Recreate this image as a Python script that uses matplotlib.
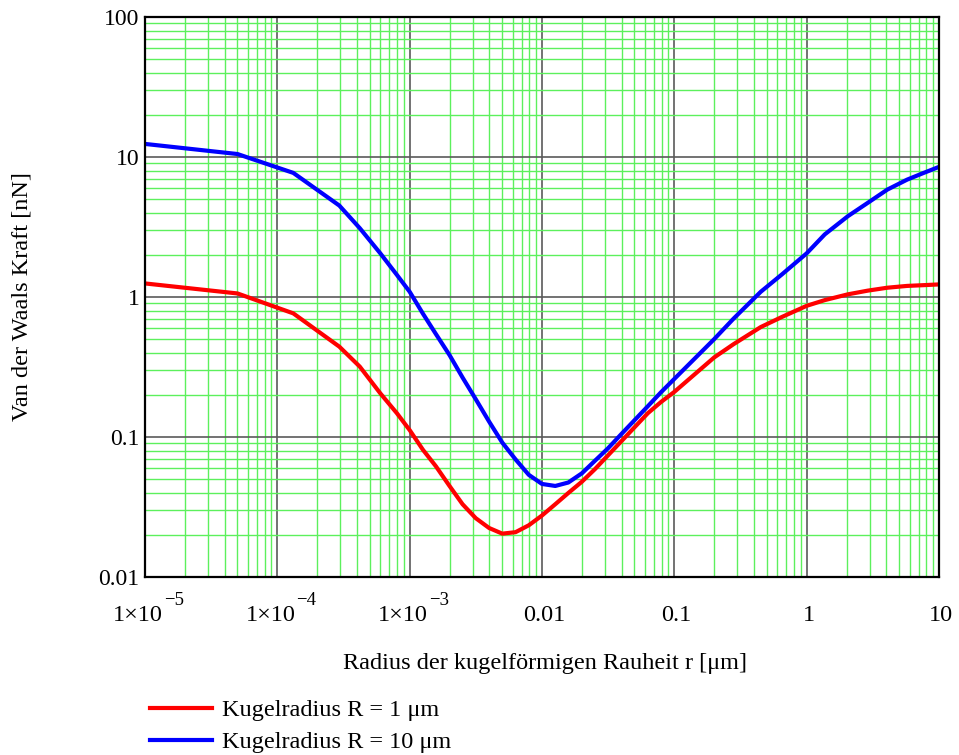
import numpy as np
import matplotlib
matplotlib.use("Agg")
from matplotlib import pyplot as plt
from matplotlib.lines import Line2D
from matplotlib import transforms

plt.rcParams['font.family'] = ['Liberation Serif', 'DejaVu Serif']
plt.rcParams['font.size'] = 17

# radius of the spherical roughness r [um]
r = [1e-5, 5e-5, 1.32e-4, 2.94e-4, 4.2e-4, 6e-4, 8e-4, 1e-3,
     1.26e-3, 1.58e-3, 2e-3, 2.51e-3, 3.16e-3, 3.98e-3, 5.01e-3, 6.31e-3, 7.94e-3,
     1e-2, 1.26e-2, 1.58e-2, 2e-2, 2.51e-2, 3.16e-2, 3.98e-2, 5.01e-2, 6.31e-2, 7.94e-2,
     0.1, 0.2, 0.28, 0.45, 0.65, 1, 1.37, 2.05, 2.89, 4.07, 5.74, 7.64, 10]

# van der Waals force [nN] for sphere radius R = 1 um and R = 10 um
F_R1 = [1.25, 1.06, 0.764, 0.442, 0.318, 0.205, 0.148, 0.112,
        0.081, 0.0617, 0.0447, 0.0331, 0.0263, 0.0224, 0.0204, 0.0209, 0.0234,
        0.0275, 0.0331, 0.0398, 0.0479, 0.0589, 0.0741, 0.0933, 0.1175, 0.148, 0.178,
        0.21, 0.37, 0.46, 0.61, 0.72, 0.865, 0.95, 1.045, 1.11, 1.165, 1.2, 1.215, 1.23]
F_R10 = [12.4, 10.5, 7.7, 4.5, 3.1, 2.05, 1.44, 1.09,
         0.76, 0.543, 0.385, 0.266, 0.186, 0.129, 0.0912, 0.0692, 0.0537,
         0.0462, 0.0447, 0.0473, 0.055, 0.0676, 0.0832, 0.105, 0.132, 0.166, 0.209,
         0.26, 0.5, 0.70, 1.09, 1.45, 2.05, 2.8, 3.78, 4.7, 5.85, 6.89, 7.69, 8.5]

xticks = [1e-5, 1e-4, 1e-3, 1e-2, 0.1, 1, 10]
# (mantissa text, exponent text) for each x tick
xticklabels = [('1×10', '−5'), ('1×10', '−4'), ('1×10', '−3'),
               ('0.01', ''), ('0.1', ''), ('1', ''), ('10', '')]
yticks = [0.01, 0.1, 1, 10, 100]
yticklabels = ['0.01', '0.1', '1', '10', '100']

fig = plt.figure(figsize=(9.59, 7.55), dpi=100)
ax = fig.add_axes([145/959, 1 - 577/755, (939-145)/959, (577-17)/755])

ax.set_xscale('log')
ax.set_yscale('log')
ax.set_xlim(1e-5, 10)
ax.set_ylim(0.01, 100)

ax.grid(True, which='minor', color='#5cf05c', lw=1.0, zorder=0)
ax.grid(True, which='major', color='#5a5a5a', lw=1.2, zorder=1)
ax.set_axisbelow(True)

ax.plot(r, F_R1, color='#ff0000', lw=3, zorder=3, solid_joinstyle='round')
ax.plot(r, F_R10, color='#0000ff', lw=3, zorder=4, solid_joinstyle='round')

ax.set_xticks(xticks)
ax.set_xticklabels([])
ax.set_yticks(yticks)
ax.set_yticklabels(yticklabels)
ax.tick_params(which='both', length=0, labelsize=17)
ax.tick_params(axis='y', pad=4)
plt.setp(ax.get_yticklabels(), va='center_baseline')

# x tick labels with a full-size exponent, baseline 44 px below the axis
base = transforms.blended_transform_factory(ax.transData, ax.transAxes)
for xv, (mant, expo) in zip(xticks, xticklabels):
    if expo:
        t1 = transforms.offset_copy(base, fig=fig, x=18, y=-44, units='dots')
        ax.text(xv, 0, mant, transform=t1, ha='right', va='baseline', fontsize=17.5)
        t2 = transforms.offset_copy(base, fig=fig, x=19, y=-28, units='dots')
        ax.text(xv, 0, expo, transform=t2, ha='left', va='baseline', fontsize=13.5)
    else:
        t1 = transforms.offset_copy(base, fig=fig, x=2, y=-44, units='dots')
        ax.text(xv, 0, mant, transform=t1, ha='center', va='baseline', fontsize=17.5)

for s in ax.spines.values():
    s.set_color('black')
    s.set_linewidth(1.6)
    s.set_zorder(5)

fig.text(545/959, 1 - 663/755, 'Radius der kugelförmigen Rauheit r [μm]',
         ha='center', va='center', fontsize=17.5)
fig.text(22/959, 1 - 297/755, 'Van der Waals Kraft [nN]',
         ha='center', va='center', rotation=90, fontsize=17.5)

handles = [Line2D([], [], color='#ff0000', lw=3),
           Line2D([], [], color='#0000ff', lw=3)]
fig.legend(handles, ['Kugelradius R = 1 μm', 'Kugelradius R = 10 μm'],
           loc='upper left', bbox_to_anchor=(150/959, 1 - 699/755),
           frameon=False, borderpad=0, borderaxespad=0,
           handlelength=2.55, handletextpad=0.42, labelspacing=0.42, fontsize=17.5)

fig.savefig('out.png', dpi=100)
